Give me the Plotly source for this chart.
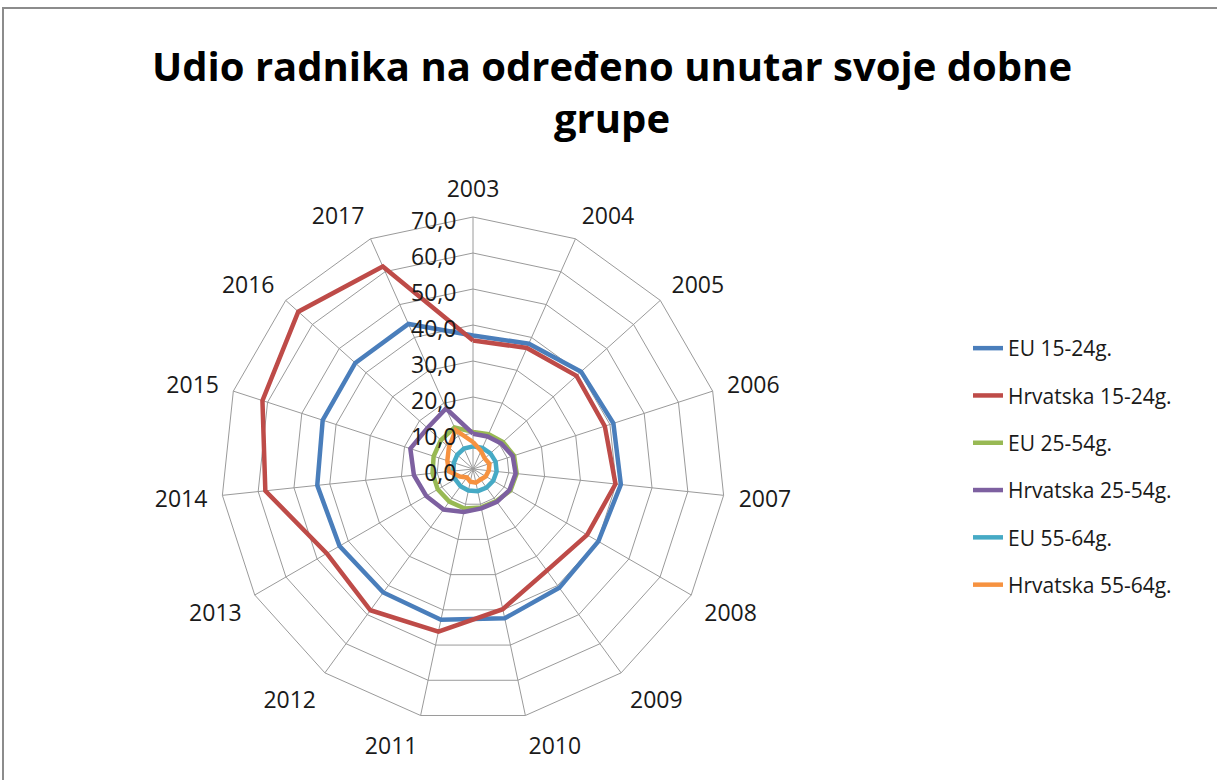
import plotly.graph_objects as go

years = [str(y) for y in range(2003, 2018)]

eu_15_24 = [37.1, 38.1, 40.4, 41.0, 41.3, 40.2, 40.8, 42.4, 42.8, 42.4, 42.8, 43.5, 43.9, 44.0, 44.1]
hr_15_24 = [35.7, 36.8, 38.7, 38.5, 39.8, 36.6, 34.9, 39.8, 46.2, 48.5, 46.9, 58.0, 61.5, 65.3, 61.6]
eu_25_54 = [10.3, 10.6, 11.2, 12.0, 12.2, 12.0, 11.0, 10.9, 11.2, 11.2, 11.3, 11.3, 11.5, 12.0, 12.6]
hr_25_54 = [9.8, 9.9, 10.6, 11.6, 11.9, 11.7, 11.3, 11.2, 12.2, 13.9, 15.0, 16.5, 18.3, 17.0, 18.4]
eu_55_64 = [6.3, 6.4, 6.5, 6.6, 6.6, 6.5, 6.4, 6.3, 6.1, 5.9, 5.7, 5.5, 5.6, 5.9, 6.2]
hr_55_64 = [7.5, 5.5, 4.4, 4.8, 4.4, 4.1, 3.6, 3.9, 3.6, 2.9, 4.2, 6.7, 7.5, 9.0, 11.8]

series_names = ["EU 15-24g.", "Hrvatska 15-24g.", "EU 25-54g.",
                "Hrvatska 25-54g.", "EU 55-64g.", "Hrvatska 55-64g."]
series_values = [eu_15_24, hr_15_24, eu_25_54, hr_25_54, eu_55_64, hr_55_64]
series_colors = ["#4A7EBB", "#BE4B48", "#98B954", "#7D60A0", "#46AAC5", "#F69240"]

title_text = "Udio radnika na određeno unutar svoje dobne<br>grupe"

W, H = 1217, 780
FONT = "'Open Sans', sans-serif"

fig = go.Figure()
for name, vals, col in zip(series_names, series_values, series_colors):
    fig.add_trace(go.Scatterpolar(
        r=vals + [vals[0]],
        theta=years + [years[0]],
        mode="lines",
        name=name,
        legendgroup=name,
        line=dict(color=col, width=4.5),
    ))

cx, cy, rad = 473, 469, 252
fig.update_layout(
    width=W, height=H,
    margin=dict(l=0, r=0, t=0, b=0),
    paper_bgcolor="white",
    separators=",.",
    font=dict(family=FONT, size=23, color="#1a1a1a"),
    polar=dict(
        domain=dict(x=[(cx - rad) / W, (cx + rad) / W],
                    y=[1 - (cy + rad) / H, 1 - (cy - rad) / H]),
        gridshape="linear",
        bgcolor="white",
        radialaxis=dict(
            range=[0, 70], dtick=10, tickformat=".1f",
            showline=False, ticks="", angle=90,
            side="counterclockwise",
            gridcolor="#9a9a9a", gridwidth=1,
            tickfont=dict(size=23, color="#1a1a1a"),
        ),
        angularaxis=dict(
            type="category", categoryarray=years,
            direction="clockwise", rotation=90,
            showline=True, linecolor="#9a9a9a", linewidth=1,
            gridcolor="#9a9a9a", gridwidth=1,
            ticks="outside", ticklen=10, tickcolor="rgba(0,0,0,0)",
            tickfont=dict(size=23, color="#1a1a1a"),
        ),
    ),
    legend=dict(
        x=968 / W, xanchor="left",
        y=1 - 328 / H, yanchor="top",
        font=dict(size=21, color="#1a1a1a"),
        tracegroupgap=17,
        bgcolor="rgba(0,0,0,0)",
    ),
    annotations=[dict(
        text="<b>" + title_text + "</b>",
        xref="paper", yref="paper",
        x=612 / W, xanchor="center",
        y=1 - 91 / H, yanchor="middle",
        showarrow=False, align="center",
        font=dict(family=FONT, size=40, color="black"),
    )],
    shapes=[dict(type="rect", xref="paper", yref="paper",
                 x0=3 / W, x1=1.02, y0=-0.05, y1=1 - 8 / H,
                 line=dict(color="#8c8c8c", width=2))],
)

fig.write_html(
    "out.html",
    config={"displayModeBar": False},
    post_script="document.body.style.margin='0';document.body.style.overflow='hidden';",
)
